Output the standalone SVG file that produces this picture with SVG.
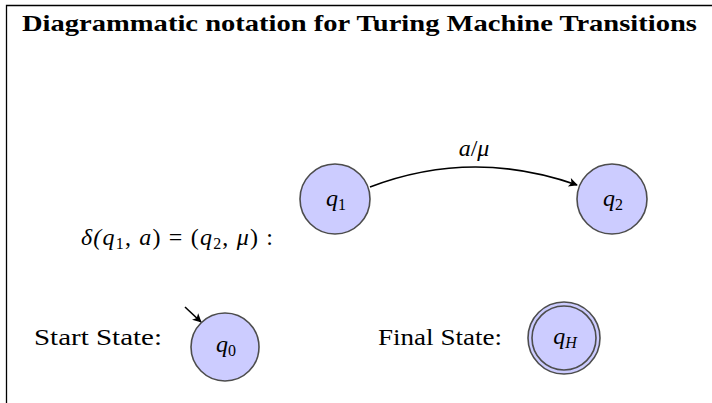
<svg xmlns="http://www.w3.org/2000/svg" width="712" height="403" viewBox="0 0 712 403">
<style>
.st{fill:#ccccff;stroke:#4d4d4d;stroke-width:1.6}
.t{font-family:"Liberation Serif","DejaVu Serif",serif;font-size:23px;fill:#000}
.m{font-family:"Liberation Serif","DejaVu Serif",serif;font-size:24px;font-style:italic;fill:#000}
.s{font-size:16px;font-style:normal}
.si{font-size:16px;font-style:italic}
.e{fill:none;stroke:#000;stroke-width:1.6}
</style>
<defs>
<marker id="ah" viewBox="0 0 10 10" refX="9" refY="5" markerWidth="11" markerHeight="9" markerUnits="userSpaceOnUse" orient="auto">
<path d="M0,0 L10,5 L0,10 L2.5,5 Z" fill="#000"/>
</marker>
</defs>
<rect width="712" height="403" fill="#fff"/>
<path d="M6.5,403 V5.5 H712" fill="none" stroke="#000" stroke-width="1.3"/>
<text x="22" y="31" class="t" font-weight="bold" font-size="24" textLength="675" lengthAdjust="spacingAndGlyphs">Diagrammatic notation for Turing Machine Transitions</text>
<text x="81" y="245" class="m" textLength="192" lengthAdjust="spacing">δ(q<tspan class="s" dy="4">1</tspan><tspan dy="-4" font-style="normal">, </tspan>a<tspan font-style="normal">) = (</tspan>q<tspan class="s" dy="4">2</tspan><tspan dy="-4" font-style="normal">, </tspan>μ<tspan font-style="normal">)  :</tspan></text>
<text x="34" y="345" class="t" textLength="128" lengthAdjust="spacingAndGlyphs">Start State:</text>
<text x="378" y="345" class="t" textLength="124" lengthAdjust="spacingAndGlyphs">Final State:</text>
<g id="connectors">
<path class="e" d="M370,187 Q472,148 577,185" marker-end="url(#ah)"/>
<path class="e" d="M185,307 L201,322" marker-end="url(#ah)"/>
<text x="474" y="156" class="m" text-anchor="middle">a<tspan font-style="normal">/</tspan>μ</text>
</g>
<g id="q1">
<circle class="st" cx="335" cy="199" r="35"/>
<text x="336" y="206" class="m" text-anchor="middle">q<tspan class="s" dy="4">1</tspan></text>
</g>
<g id="q2">
<circle class="st" cx="612" cy="199" r="35"/>
<text x="613" y="206" class="m" text-anchor="middle">q<tspan class="s" dy="4">2</tspan></text>
</g>
<g id="q0">
<circle class="st" cx="225" cy="347" r="34"/>
<text x="226" y="352" class="m" text-anchor="middle">q<tspan class="s" dy="4">0</tspan></text>
</g>
<g id="qH">
<circle class="st" cx="564" cy="338" r="36"/>
<circle class="st" cx="564" cy="338" r="32"/>
<text x="565" y="344" class="m" text-anchor="middle">q<tspan class="si" dy="4">H</tspan></text>
</g>
</svg>
